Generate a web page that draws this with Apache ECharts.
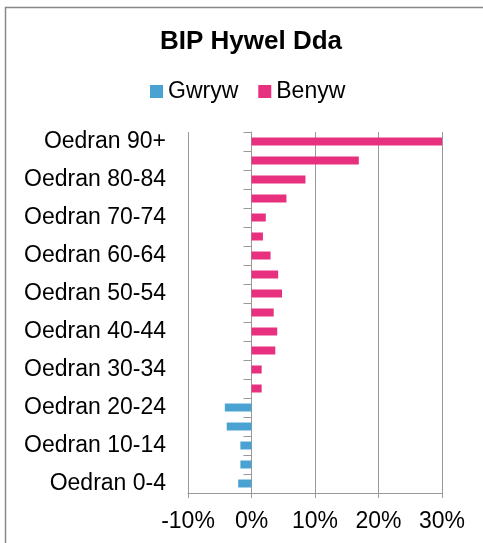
<!DOCTYPE html>
<html>
<head>
<meta charset="utf-8">
<script src="https://cdn.jsdelivr.net/npm/echarts@6/dist/echarts.min.js"></script>
<style>
html,body{margin:0;padding:0;background:#fff;}
#chart{width:483px;height:543px;}
</style>
</head>
<body>
<div id="chart"></div>
<script>
var categories = ['Oedran 0-4','Oedran 5-9','Oedran 10-14','Oedran 15-19','Oedran 20-24','Oedran 25-29','Oedran 30-34','Oedran 35-39','Oedran 40-44','Oedran 45-49','Oedran 50-54','Oedran 55-59','Oedran 60-64','Oedran 65-69','Oedran 70-74','Oedran 75-79','Oedran 80-84','Oedran 85-89','Oedran 90+'];
var gwryw = [-2.1,-1.75,-1.75,-3.9,-4.2,0,0,0,0,0,0,0,0,0,0,0,0,0,0];
var benyw = [0,0,0,0,0,1.6,1.6,3.75,4.05,3.5,4.8,4.2,3.0,1.8,2.25,5.5,8.5,16.9,30.0];
var xTicks = {min:-10, max:30, interval:10};

var chart = echarts.init(document.getElementById('chart'));
var font = 'Liberation Sans, Arial, sans-serif';
chart.setOption({
  animation:false,
  backgroundColor:'#fff',
  title:{text:'BIP Hywel Dda', left:246, textAlign:'center', top:24,
    textStyle:{fontFamily:font, fontWeight:'bold', fontSize:26, color:'#000'}},
  legend:{left:145, top:75, itemWidth:13, itemHeight:13, itemGap:20, icon:'rect',
    textStyle:{fontFamily:font, fontSize:23, color:'#000'},
    data:['Gwryw','Benyw']},
  grid:{left:188, right:41, top:132, bottom:50, containLabel:false},
  xAxis:{type:'value', min:xTicks.min, max:xTicks.max, interval:xTicks.interval,
    axisLabel:{formatter:function(v){return v+'%';}, fontFamily:font, fontSize:23, color:'#000', margin:17},
    axisLine:{show:true, lineStyle:{color:'#999', width:1}},
    axisTick:{show:true, length:5, lineStyle:{color:'#999'}},
    splitLine:{show:true, lineStyle:{color:'#999', width:1}}},
  yAxis:[
    {type:'category', data:categories, position:'left',
     axisLine:{show:true, onZero:true, lineStyle:{color:'#999', width:1}},
     axisTick:{show:true, interval:0, length:8, lineStyle:{color:'#999'}},
     axisLabel:{show:false}},
    {type:'category', data:categories, position:'left',
     axisLine:{show:false, onZero:false}, axisTick:{show:false},
     axisLabel:{show:true, interval:1, fontFamily:font, fontSize:23, color:'#000', margin:22}}
  ],
  series:[
    {name:'Gwryw', type:'bar', yAxisIndex:0, data:gwryw, barWidth:8, barGap:'-100%',
     itemStyle:{color:'#4AA2D2'}},
    {name:'Benyw', type:'bar', yAxisIndex:0, data:benyw, barWidth:8, barGap:'-100%',
     itemStyle:{color:'#E8317E'}}
  ],
  graphic:[{type:'polyline', shape:{points:[[5.5,543],[5.5,7.5],[483,7.5]]},
    style:{stroke:'#888', lineWidth:1.5, fill:null}, silent:true}]
});
</script>
</body>
</html>
